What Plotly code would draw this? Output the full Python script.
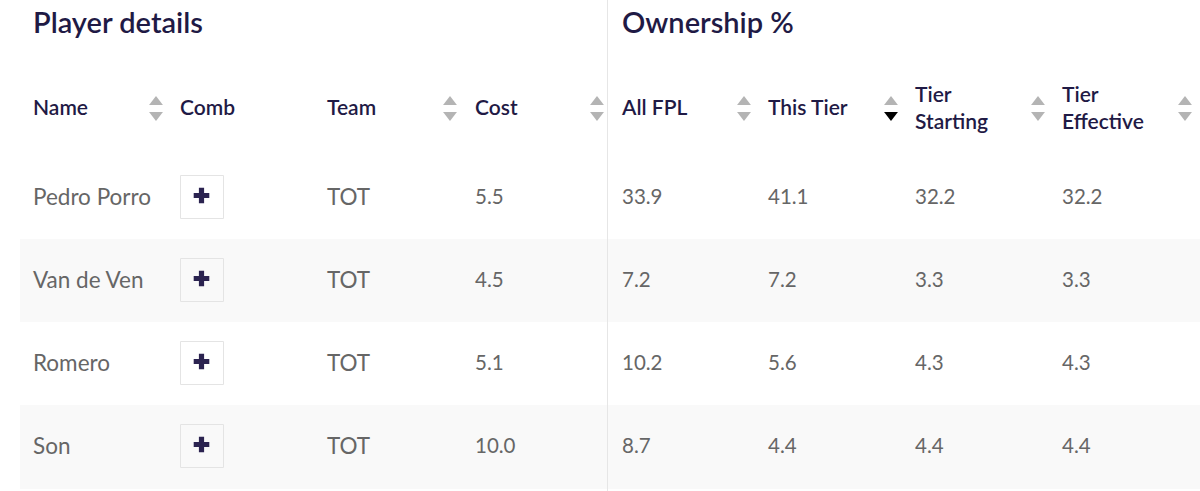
''' plot.py - Player ownership table drawn on a pixel-scaled Plotly canvas '''

import plotly.graph_objects as go

# Table contents
group_titles = ['Player details', 'Ownership %']
headers = ['Name', 'Comb', 'Team', 'Cost', 'All FPL', 'This Tier', 'Tier<br>Starting', 'Tier<br>Effective']
names = ['Pedro Porro', 'Van de Ven', 'Romero', 'Son']
teams = ['TOT', 'TOT', 'TOT', 'TOT']
costs = ['5.5', '4.5', '5.1', '10.0']
all_fpl = ['33.9', '7.2', '10.2', '8.7']
this_tier = ['41.1', '7.2', '5.6', '4.4']
tier_starting = ['32.2', '3.3', '4.3', '4.4']
tier_effective = ['32.2', '3.3', '4.3', '4.4']

# Layout in pixels
WIDTH, HEIGHT = 1200, 491
col_x = [33, 180, 327, 475, 622, 768, 915, 1062]
row_y = [197, 280, 363, 446]
title_x = [33, 622]
sort_x = [156, 450, 597, 744, 891, 1038, 1185]
ACTIVE_SORT = 891
BUTTON_X = 202
TEXT_NUDGE = 2  # Lato sits a little high against the row centres

INK = '#1f1a45'
BODY = '#666666'
FONT = 'Lato, sans-serif'

fig = go.Figure()

# Group titles and column headers
fig.add_trace(go.Scatter(
    x=title_x, y=[24 + TEXT_NUDGE] * 2, mode='text', text=group_titles,
    textposition='middle right', textfont=dict(family=FONT, size=29, color=INK, weight=600),
))
fig.add_trace(go.Scatter(
    x=col_x, y=[108 + TEXT_NUDGE] * len(col_x), mode='text', text=headers,
    textposition='middle right', textfont=dict(family=FONT, size=21, color=INK, weight=600),
))

# Sort arrows
fig.add_trace(go.Scatter(
    x=sort_x, y=[102] * len(sort_x), mode='markers',
    marker=dict(symbol='triangle-up', size=12, color='#b4b4b4'),
))
fig.add_trace(go.Scatter(
    x=sort_x, y=[115] * len(sort_x), mode='markers',
    marker=dict(symbol='triangle-down', size=12,
                color=['#000000' if x == ACTIVE_SORT else '#b4b4b4' for x in sort_x]),
))

# Body cells, one column at a time: names and teams first, then the narrower numbers
for x, values in zip([col_x[0], col_x[2]], [names, teams]):
    fig.add_trace(go.Scatter(
        x=[x] * len(values), y=[y + TEXT_NUDGE for y in row_y], mode='text', text=values,
        textposition='middle right', textfont=dict(family=FONT, size=22.5, color=BODY),
    ))
for x, values in zip(col_x[3:], [costs, all_fpl, this_tier, tier_starting, tier_effective]):
    fig.add_trace(go.Scatter(
        x=[x] * len(values), y=[y + TEXT_NUDGE for y in row_y], mode='text', text=values,
        textposition='middle right', textfont=dict(family=FONT, size=20.5, color=BODY),
    ))

# Comb buttons
fig.add_trace(go.Scatter(
    x=[BUTTON_X] * len(row_y), y=row_y, mode='markers',
    marker=dict(symbol='square', size=43, color='rgba(255,255,255,0)',
                line=dict(width=1, color='#e4e4e4')),
))
fig.add_trace(go.Scatter(
    x=[BUTTON_X - 0.5] * len(row_y), y=[y - 1.5 for y in row_y], mode='markers',
    marker=dict(symbol='cross', size=13, color='#2b2350', line=dict(width=0)),
))

fig.update_layout(
    width=WIDTH, height=HEIGHT, showlegend=False, hovermode=False,
    margin=dict(l=0, r=0, t=0, b=0), paper_bgcolor='white', plot_bgcolor='white',
    shapes=[
        dict(type='rect', x0=20, x1=WIDTH, y0=239, y1=322, fillcolor='#f9f9f9', line_width=0, layer='below'),
        dict(type='rect', x0=20, x1=WIDTH, y0=405, y1=489, fillcolor='#f9f9f9', line_width=0, layer='below'),
        dict(type='line', x0=607.5, x1=607.5, y0=0, y1=491, line=dict(color='#e6e6e6', width=1), layer='below'),
    ],
)
fig.update_xaxes(range=[0, WIDTH], visible=False, fixedrange=True)
fig.update_yaxes(range=[HEIGHT, 0], visible=False, fixedrange=True)

# Drop the page's default body margin so the canvas sits at the window corner
fig.write_html('out.html', config=dict(displayModeBar=False),
               post_script="document.body.style.margin='0';document.body.style.overflow='hidden';")
